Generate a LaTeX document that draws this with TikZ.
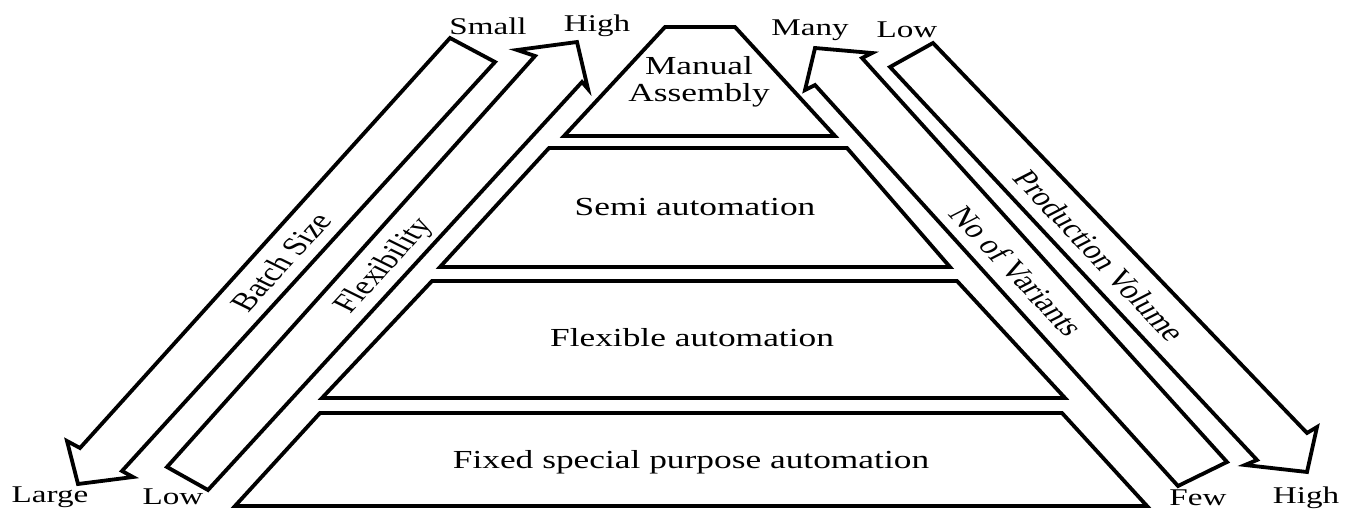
\documentclass[tikz,border=0pt]{standalone}
\usepackage{fontspec}
\setmainfont{Liberation Serif}
\tikzset{
  outline/.style={draw=black, line width=3.8pt, fill=white, line join=miter, miter limit=20},
  tier/.style={font=\fontsize{26}{27}\selectfont, align=center, inner sep=0pt, xscale=1.36},
  endlbl/.style={font=\fontsize{24}{28}\selectfont, inner sep=0pt, xscale=1.38},
  axislbl/.style={font=\fontsize{26}{28}\selectfont, inner sep=0pt, xscale=1.36},
}
\begin{document}
\begin{tikzpicture}[x=1pt,y=-1pt]
\useasboundingbox (0,0) rectangle (1356,511);

% pyramid tiers
\draw[outline] (665,27) -- (735,27) -- (835,136) -- (564,136) -- cycle;
\draw[outline] (549,148) -- (847,148) -- (950,267) -- (440,267) -- cycle;
\draw[outline] (432,281) -- (957,281) -- (1065,398) -- (322,398) -- cycle;
\draw[outline] (320,413) -- (1062,413) -- (1147,506) -- (235,506) -- cycle;

\node[tier] (manual) at (699,82) {Manual\\Assembly};
\node[tier] (semi) at (695,207) {Semi automation};
\node[tier] (flex) at (692,338) {Flexible automation};
\node[tier] (fixed) at (691,462) {Fixed special purpose automation};

% block arrows on the left: batch size (down) and flexibility (up)
\draw[outline] (450,38) -- (495,62) -- (122,471) -- (133,477) -- (78,484)
  -- (67,441) -- (80,448) -- cycle;
\draw[outline] (167,467) -- (535,56) -- (517,50) -- (577,42) -- (588,89)
  -- (582,82) -- (208,490) -- cycle;

% block arrows on the right: variants (up) and production volume (down)
\draw[outline] (1178,486) -- (815,85) -- (805,90) -- (815,48) -- (872,53)
  -- (862,58) -- (1227,462) -- cycle;
\draw[outline] (890,67) -- (933,43) -- (1307,433) -- (1317,427) -- (1307,472)
  -- (1245,465) -- (1257,460) -- cycle;

% arrow captions, rotated along the shafts
\node[axislbl, rotate=56] (batch) at (281,262) {Batch Size};
\node[axislbl, rotate=56] (flexy) at (385,266) {Flexibility};
\node[axislbl, rotate=-55] (variants) at (1017,271) {No of Variants};
\node[axislbl, rotate=-55] (volume) at (1100,256) {Production Volume};

% end labels
\node[endlbl] (small) at (488,26) {Small};
\node[endlbl] (highl) at (597,26) {High};
\node[endlbl] (many) at (810,30) {Many};
\node[endlbl] (lowr) at (907,30) {Low};
\node[endlbl] (large) at (50,497) {Large};
\node[endlbl] (lowl) at (173,497) {Low};
\node[endlbl] (few) at (1198,498) {Few};
\node[endlbl] (highr) at (1306,498) {High};
\end{tikzpicture}
\end{document}
